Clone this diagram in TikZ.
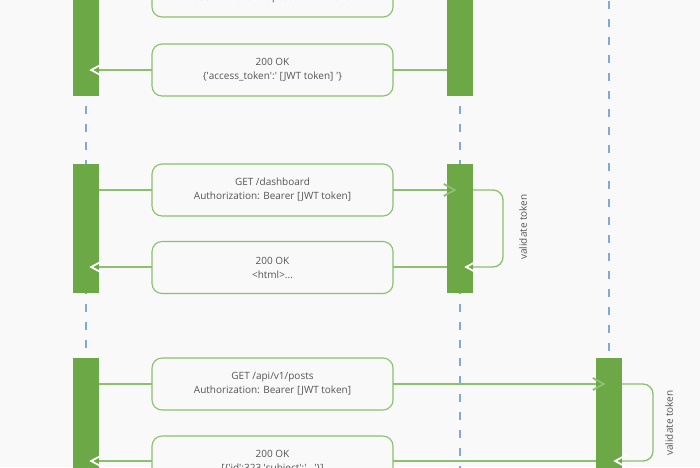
\documentclass[tikz,border=0pt]{standalone}
\usepackage{fontspec}
\setmainfont{Open Sans}
\usetikzlibrary{calc}
\definecolor{bgc}{HTML}{F9F9F9}
\definecolor{barg}{HTML}{6DA847}
\definecolor{lineg}{HTML}{8CBF6E}
\definecolor{life}{HTML}{7FA9DA}
\definecolor{txt}{HTML}{555555}
\newcommand\q{\textquotesingle}
\pgfdeclarelayer{back}
\pgfdeclarelayer{lines}
\pgfsetlayers{back,lines,main}
\begin{document}
\begin{tikzpicture}[x=1pt,y=-1pt,
 bar/.style={fill=barg, draw=none, minimum width=26pt, inner sep=0pt},
 msgbox/.style={draw=lineg, line width=1.1pt, fill=bgc, rounded corners=10pt, minimum width=241pt, minimum height=52pt, inner sep=0pt, align=center, font=\fontsize{10}{14}\selectfont, text=txt},
 msg/.style={draw=lineg, line width=1.3pt},
 loopline/.style={draw=lineg, line width=1.3pt, rounded corners=10pt},
 lifeline/.style={draw=life, line width=1.2pt, dash pattern=on 8pt off 10pt},
 chevw/.style={draw=white, line width=1.8pt},
 chevg/.style={draw=lineg, line width=1.8pt},
 lbl/.style={rotate=90, font=\fontsize{10}{12}\selectfont, text=txt}]
\useasboundingbox (0,0) rectangle (700,467);
\clip (0,0) rectangle (700,467);

% activation bars
\node[bar, minimum height=116pt] (L1) at (86,38) {};
\node[bar, minimum height=116pt] (M1) at (460,38) {};
\node[bar, minimum height=129pt] (L2) at (86,228.5) {};
\node[bar, minimum height=129pt] (M2) at (460,228.5) {};
\node[bar, minimum height=130pt] (L3) at (86,423) {};
\node[bar, minimum height=130pt] (R3) at (609,423) {};

% lifeline ends
\coordinate (LT) at (86,-20);
\coordinate (LB) at (86,480);
\coordinate (MT) at (460,-20);
\coordinate (MB) at (460,480);
\coordinate (RT) at (609,1);
\coordinate (RB) at (609,480);

% message boxes
\node[msgbox] (b1) at (272.5,-9) {\phantom{X}\\username=tino\&password=12345};
\node[msgbox] (b2) at (272.5,70) {200 OK\\\{\q access\_token\q:\q\ [JWT token] \q\}};
\node[msgbox] (b3) at (272.5,190) {GET /dashboard\\Authorization: Bearer [JWT token]};
\node[msgbox] (b4) at (272.5,267.5) {200 OK\\<html>...};
\node[msgbox] (b5) at (272.5,384) {GET /api/v1/posts\\Authorization: Bearer [JWT token]};
\node[msgbox] (b6) at (272.5,462) {200 OK\\\relax[\{\q id\q:323,\q subject\q:\q...\q\}]};

% labels
\node[lbl] (v1) at (523,227) {validate token};
\node[lbl] (v2) at (669,423) {validate token};

% arrow tips
\coordinate (t1) at ($(M1.west |- b1)+(8,0)$);
\coordinate (t2) at ($(L1.east |- b2)+(-8,0)$);
\coordinate (t3) at ($(M2.west |- b3)+(8,0)$);
\coordinate (t3r) at ($(M2.east |- 0,267)+(-7,0)$);
\coordinate (t4) at ($(L2.east |- 0,267)+(-8,0)$);
\coordinate (t5) at ($(R3.west |- b5)+(8,0)$);
\coordinate (t5r) at ($(R3.east |- 0,461)+(-7,0)$);
\coordinate (t6) at ($(L3.east |- 0,461)+(-8,0)$);

\begin{pgfonlayer}{back}
\fill[bgc] (0,0) rectangle (700,467);
\draw[lifeline] (LT) -- (LB);
\draw[lifeline] (MT) -- (MB);
\draw[lifeline] (RT) -- (RB);
\end{pgfonlayer}

\begin{pgfonlayer}{lines}
\draw[msg] (L1.east |- b1) -- (M1.west |- b1);
\draw[msg] (M1.west |- b2) -- (t2);
\draw[msg] (L2.east |- b3) -- (M2.west |- b3);
\draw[loopline] (M2.east |- b3) -- (503,190) -- (503,267) -- (t3r);
\draw[msg] (M2.west |- t4) -- (t4);
\draw[msg] (L3.east |- b5) -- (R3.west |- b5);
\draw[loopline] (R3.east |- b5) -- (653,384) -- (653,461) -- (t5r);
\draw[msg] (R3.west |- t6) -- (t6);
\end{pgfonlayer}

% chevrons
\draw[chevg] ($(t1)+(-11,-6)$) -- (t1) -- ($(t1)+(-11,6)$);
\draw[chevw] ($(t2)+(11,-6)$) -- (t2) -- ($(t2)+(11,6)$);
\draw[chevg] ($(t3)+(-11,-6)$) -- (t3) -- ($(t3)+(-11,6)$);
\draw[chevw] ($(t3r)+(11,-6)$) -- (t3r) -- ($(t3r)+(11,6)$);
\draw[chevw] ($(t4)+(11,-6)$) -- (t4) -- ($(t4)+(11,6)$);
\draw[chevg] ($(t5)+(-11,-6)$) -- (t5) -- ($(t5)+(-11,6)$);
\draw[chevw] ($(t5r)+(11,-6)$) -- (t5r) -- ($(t5r)+(11,6)$);
\draw[chevw] ($(t6)+(11,-6)$) -- (t6) -- ($(t6)+(11,6)$);
\end{tikzpicture}
\end{document}
